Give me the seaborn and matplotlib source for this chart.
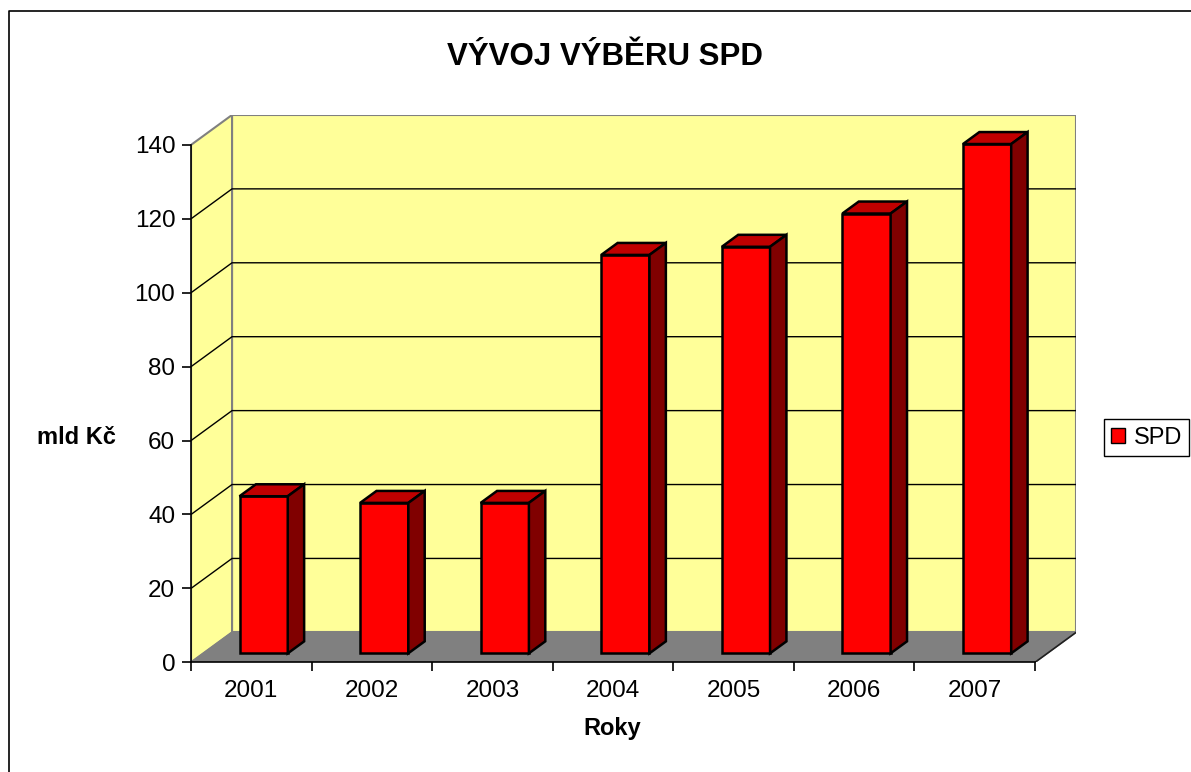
import numpy as np
import matplotlib
matplotlib.use('Agg')
import matplotlib.pyplot as plt
import seaborn as sns
from matplotlib.patches import Polygon, Rectangle, Patch
from matplotlib.lines import Line2D

# data (mld Kč)
years = ['2001', '2002', '2003', '2004', '2005', '2006', '2007']
spd = [42.5, 40.7, 40.7, 107.8, 110.0, 119.0, 137.8]
yticks = [0, 20, 40, 60, 80, 100, 120, 140]

sns.set_style('white')
plt.rcParams['font.family'] = ['Liberation Sans', 'DejaVu Sans']
plt.rcParams['text.color'] = 'black'
plt.rcParams['xtick.color'] = 'black'
plt.rcParams['ytick.color'] = 'black'
plt.rcParams['axes.labelcolor'] = 'black'

DX, DY = 0.34, 8.1      # depth of the fake 3d box, in data units
F0, F1 = 0.3, 0.7       # front / back of the bars as fraction of depth
n = len(years)
ymax = yticks[-1]

fig = plt.figure(figsize=(11.91, 7.72), dpi=100)
ax = fig.add_axes([0.1604, 0.1421, 0.7431, 0.709])
ax.set_facecolor('none')

# back wall, side wall, floor
ax.add_patch(Rectangle((-0.5 + DX, DY), n, ymax, facecolor='#FFFF99',
                       edgecolor='#808080', lw=1.5, zorder=0))
ax.add_patch(Polygon([(-0.5, 0), (-0.5 + DX, DY), (-0.5 + DX, ymax + DY), (-0.5, ymax)],
                     closed=True, facecolor='#FFFF99', edgecolor='#808080', lw=1.5, zorder=0))
ax.add_patch(Polygon([(-0.5, 0), (n - 0.5, 0), (n - 0.5 + DX, DY), (-0.5 + DX, DY)],
                     closed=True, facecolor='#808080', edgecolor='#808080', lw=1, zorder=0.5))
ax.plot([n - 0.5, n - 0.5 + DX], [0, DY], color='#202020', lw=1.2, zorder=0.6)

# gridlines on side and back wall
for v in yticks[1:-1]:
    ax.plot([-0.5, -0.5 + DX, n - 0.5 + DX], [v, v + DY, v + DY], color='black', lw=1, zorder=0.6)

# bars: front faces from seaborn, then top and side faces
before = len(ax.patches)
sns.barplot(x=years, y=spd, color='#FF0000', saturation=1, width=0.4,
            edgecolor='black', linewidth=1.8, ax=ax, zorder=2)
bars = list(ax.patches)[before:]

ddx, ddy = (F1 - F0) * DX, (F1 - F0) * DY
for p in bars:
    x0 = p.get_x() + F0 * DX
    yb = F0 * DY
    p.set_x(x0)
    p.set_y(yb)
    x1 = x0 + p.get_width()
    yt = yb + p.get_height()
    ax.add_patch(Polygon([(x0, yt), (x1, yt), (x1 + ddx, yt + ddy), (x0 + ddx, yt + ddy)],
                         closed=True, facecolor='#C00000', edgecolor='black', lw=1.8, zorder=2))
    ax.add_patch(Polygon([(x1, yb), (x1 + ddx, yb + ddy), (x1 + ddx, yt + ddy), (x1, yt)],
                         closed=True, facecolor='#800000', edgecolor='black', lw=1.8, zorder=2))

# axes
ax.set_xlim(-0.5, n - 0.5 + DX)
ax.set_ylim(0, ymax + DY)
ax.set_yticks(yticks)
ax.set_xticks(range(n))
ax.set_xticklabels(years)
ax.set_xticks(np.arange(n + 1) - 0.5, minor=True)
ax.tick_params(axis='x', which='major', length=0, pad=13, labelsize=17.5, bottom=True)
ax.tick_params(axis='x', which='minor', length=6.5, width=1.2, color='black',
               direction='out', bottom=True)
ax.tick_params(axis='y', length=6.5, width=1.2, color='black', direction='out',
               pad=4.8, labelsize=17.5, left=True)
ax.set_xlabel('')
ax.set_ylabel('')
ax.grid(False)
for s in ['top', 'right']:
    ax.spines[s].set_visible(False)
ax.spines['left'].set_bounds(0, ymax)
ax.spines['bottom'].set_bounds(-0.5, n - 0.5)
for s in ['left', 'bottom']:
    ax.spines[s].set_color('black')
    ax.spines[s].set_linewidth(1.2)
    ax.spines[s].set_zorder(3)

# texts
fig.text(605 / 1191, 1 - 57 / 772, 'VÝVOJ VÝBĚRU SPD', ha='center', va='center',
         fontsize=22.5, fontweight='bold', color='black')
fig.text(76 / 1191, 1 - 437 / 772, 'mld Kč', ha='center', va='center',
         fontsize=17, fontweight='bold', color='black')
fig.text(612 / 1191, 1 - 728 / 772, 'Roky', ha='center', va='center',
         fontsize=17, fontweight='bold', color='black')

# legend
leg = fig.legend(handles=[Patch(facecolor='#FF0000', edgecolor='black', label='SPD')],
                 loc='center left', bbox_to_anchor=(1104 / 1191, 1 - 437.5 / 772),
                 fontsize=17, frameon=True, fancybox=False, framealpha=1,
                 edgecolor='black', borderpad=0.3, handlelength=0.6,
                 handleheight=0.6, handletextpad=0.35, borderaxespad=0)
leg.get_frame().set_linewidth(1)

# chart area border (only left and top visible)
fig.add_artist(Line2D([9 / 1191, 9 / 1191, 1], [0, 1 - 11 / 772, 1 - 11 / 772],
                      transform=fig.transFigure, color='black', lw=1.2))

fig.savefig('out.png', dpi=100)
